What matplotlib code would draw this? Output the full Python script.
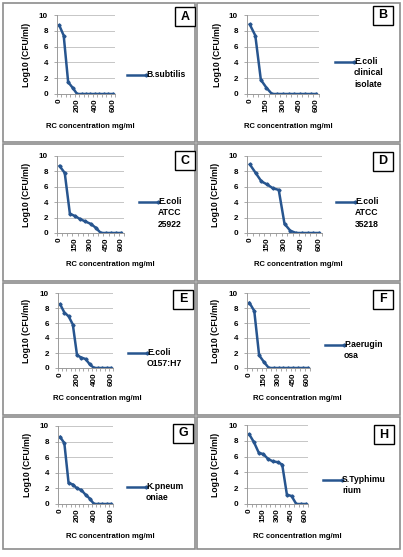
import matplotlib
matplotlib.use("Agg")
import matplotlib.pyplot as plt
from matplotlib.patches import Rectangle
from matplotlib.lines import Line2D

plt.rcParams['font.family'] = ['Liberation Sans', 'DejaVu Sans']
plt.rcParams['font.weight'] = 'bold'

W, H = 403, 557

# RC concentration (mg/ml) categories
conc = [0, 50, 100, 150, 200, 250, 300, 350, 400, 450, 500, 550, 600]

# Log10 (CFU/ml) per organism
bsub = [8.7, 7.4, 1.5, 0.8, 0, 0, 0, 0, 0, 0, 0, 0, 0]
ecoli_clin = [8.8, 7.4, 1.8, 0.8, 0, 0, 0, 0, 0, 0, 0, 0, 0]
ecoli_25922 = [8.7, 7.8, 2.5, 2.2, 1.8, 1.5, 1.2, 0.7, 0, 0, 0, 0, 0]
ecoli_35218 = [8.9, 7.8, 6.7, 6.3, 5.8, 5.6, 1.2, 0.3, 0, 0, 0, 0, 0]
ecoli_o157 = [8.5, 7.4, 6.9, 5.8, 1.7, 1.4, 1.2, 0.5, 0, 0, 0, 0, 0]
paer = [8.7, 7.6, 1.7, 0.8, 0, 0, 0, 0, 0, 0, 0, 0, 0]
kpn = [8.6, 7.8, 2.7, 2.5, 2.0, 1.8, 1.2, 0.7, 0, 0, 0, 0, 0]
styph = [8.8, 7.8, 6.5, 6.3, 5.7, 5.4, 5.3, 5.0, 1.2, 1.0, 0, 0, 0]

series = [bsub, ecoli_clin, ecoli_25922, ecoli_35218, ecoli_o157, paer, kpn, styph]
names = ["B.subtilis", "E.coli\nclinical\nisolate", "E.coli\nATCC\n25922", "E.coli\nATCC\n35218",
         "E.coli\nO157:H7", "P.aerugin\nosa", "K.pneum\noniae", "S.Typhimu\nrium"]
letters = ["A", "B", "C", "D", "E", "F", "G", "H"]
label_step = [4, 3, 3, 3, 4, 3, 4, 3]

# pixel layout: panel frame, plot area, letter box, legend, labels
frames = [(3, 3, 195, 142), (197, 3, 400, 142), (3, 144, 195, 281), (197, 144, 400, 281),
          (3, 283, 195, 415), (197, 283, 400, 415), (3, 417, 195, 549), (197, 417, 400, 549)]
plots = [(57, 15, 115, 94), (247, 15, 319, 94), (57, 156, 124, 233), (247, 156, 322, 233),
         (58, 293, 113, 368), (247, 293, 310, 368), (58, 426, 113, 504), (247, 425, 308, 504)]
boxes = [(175, 7), (373, 6), (175, 151), (373, 152), (173, 290), (373, 290), (173, 424), (374, 425)]
legends = [(127, 75), (335, 62), (139, 202), (336, 202), (128, 353), (325, 345), (127, 487), (323, 480)]
ylab_x = [27, 217, 27, 216, 27, 215, 28, 215]
xlab = [(90, 127), (288, 127), (110, 265), (298, 265), (97, 399), (297, 398), (110, 537), (297, 537)]

blue = '#27558f'
fs_tick = 5.8
fs_ylab = 6.2
fs_xlab = 5.5
fs_leg = 6.2

fig = plt.figure(figsize=(W / 100, H / 100), dpi=100)
fig.patch.set_facecolor('white')


def fx(px):
    return px / W


def fy(py):
    return 1 - py / H


for i in range(8):
    x0, y0, x1, y1 = frames[i]
    fig.add_artist(Rectangle((fx(x0), fy(y1)), fx(x1 - x0), (y1 - y0) / H, transform=fig.transFigure,
                             fill=False, edgecolor='#8c8c8c', linewidth=1.2))

    px0, py0, px1, py1 = plots[i]
    ax = fig.add_axes([fx(px0), fy(py1), fx(px1 - px0), (py1 - py0) / H])
    pos = list(range(len(conc)))
    ax.plot(pos, series[i], color=blue, linewidth=1.8, marker='D', markersize=1.6)
    ax.set_xlim(-0.5, len(conc) - 0.5)
    ax.set_ylim(0, 10)
    ax.set_yticks([0, 2, 4, 6, 8, 10])
    ax.yaxis.grid(True, color='#bdbdbd', linewidth=0.6)
    ax.set_axisbelow(True)
    for s in ['top', 'right']:
        ax.spines[s].set_visible(False)
    for s in ['left', 'bottom']:
        ax.spines[s].set_color('#9a9a9a')
        ax.spines[s].set_linewidth(0.7)
    shown = pos[::label_step[i]]
    ax.set_xticks(shown)
    ax.set_xticklabels([str(conc[k]) for k in shown], rotation=90, fontsize=fs_tick, fontweight='bold')
    ax.set_xticks([k - 0.5 for k in range(len(conc) + 1)], minor=True)
    ax.tick_params(axis='x', which='major', length=0, pad=3)
    ax.tick_params(axis='x', which='minor', length=2.5, color='#9a9a9a', width=0.6)
    ax.tick_params(axis='y', length=2.5, color='#9a9a9a', width=0.6, labelsize=fs_tick, pad=4)
    for t in ax.get_yticklabels():
        t.set_fontweight('bold')

    # letter box
    bx, by = boxes[i]
    fig.add_artist(Rectangle((fx(bx), fy(by + 19)), fx(20), 19 / H, transform=fig.transFigure,
                             facecolor='white', edgecolor='black', linewidth=1.0))
    fig.text(fx(bx + 10), fy(by + 9.5), letters[i], ha='center', va='center',
             fontsize=9, fontweight='bold')

    # legend
    lx, ly = legends[i]
    fig.add_artist(Line2D([fx(lx), fx(lx + 19)], [fy(ly), fy(ly)], transform=fig.transFigure,
                          color=blue, linewidth=1.8, marker='D', markersize=1.6, markevery=[1]))
    fig.text(fx(lx + 19), fy(ly - 5), names[i], ha='left', va='top', fontsize=fs_leg,
             fontweight='bold', linespacing=1.35)

    fig.text(fx(ylab_x[i]), fy((py0 + py1) / 2), "Log10 (CFU/ml)", rotation=90,
             ha='center', va='center', fontsize=fs_ylab, fontweight='bold')
    fig.text(fx(xlab[i][0]), fy(xlab[i][1]), "RC concentration mg/ml", ha='center', va='center',
             fontsize=fs_xlab, fontweight='bold')

fig.savefig('out.png', dpi=100)
